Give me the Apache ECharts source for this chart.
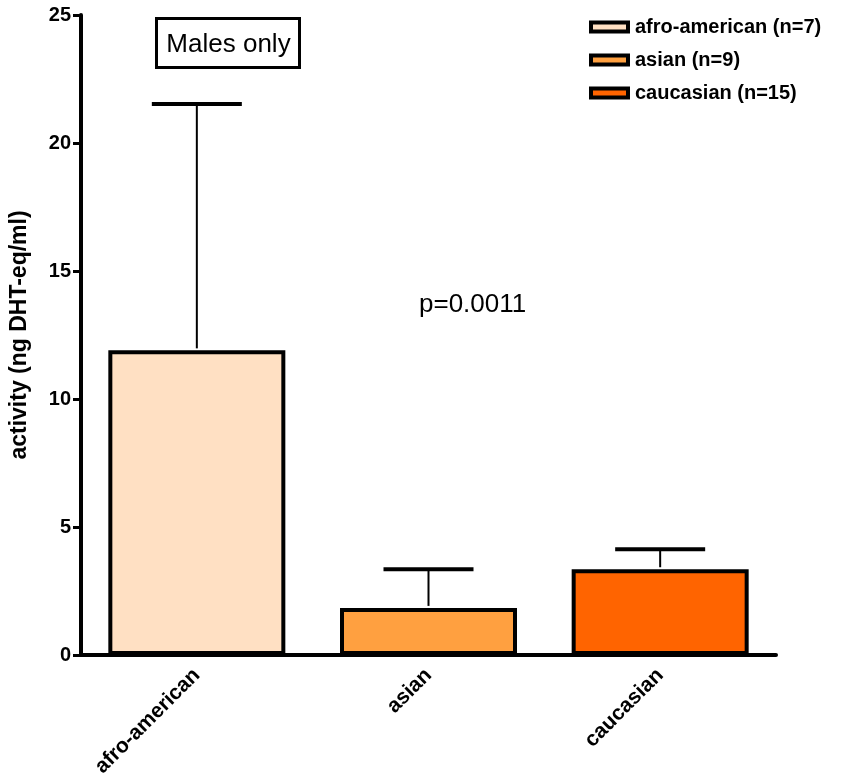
<!DOCTYPE html>
<html>
<head>
<meta charset="utf-8">
<script src="https://cdn.jsdelivr.net/npm/echarts@6/dist/echarts.min.js"></script>
<style>
  html, body { margin: 0; padding: 0; background: #fff; }
  #chart { width: 851px; height: 778px; }
</style>
</head>
<body>
<div id="chart"></div>
<script>
// Groups, means and upper error (mean + SEM) in ng DHT-eq/ml
const categories = ['afro-american', 'asian', 'caucasian'];
const legendNames = ['afro-american (n=7)', 'asian (n=9)', 'caucasian (n=15)'];
const means = [11.9, 1.84, 3.35];
const upperErrors = [21.52, 3.35, 4.13];
const yTicks = [0, 5, 10, 15, 20, 25];
const colors = ['#FFE0C3', '#FFA040', '#FF6400'];

const FONT = 'Arial, "Liberation Sans", sans-serif';

const chart = echarts.init(document.getElementById('chart'));

// One stacked series per group so each gets its own legend entry
const barSeries = categories.map((c, i) => ({
  name: legendNames[i],
  type: 'bar',
  stack: 'all',
  barWidth: 177,
  data: categories.map((_, j) => (j === i ? means[i] : '-')),
  itemStyle: { color: colors[i], borderColor: '#000', borderWidth: 4 },
  emphasis: { disabled: true },
  z: 2
}));

// Error bars: thin stem from bar top up to a thick cap
const errorSeries = {
  type: 'custom',
  name: 'error',
  data: categories.map((c, i) => [i, means[i], upperErrors[i]]),
  z: 3,
  renderItem: function (params, api) {
    const x = api.value(0);
    const base = api.coord([x, api.value(1)]);
    const top = api.coord([x, api.value(2)]);
    const half = 45;
    return {
      type: 'group',
      children: [
        { type: 'line', shape: { x1: base[0], y1: base[1] - 2, x2: top[0], y2: top[1] },
          style: { stroke: '#000', lineWidth: 2 } },
        { type: 'line', shape: { x1: top[0] - half, y1: top[1], x2: top[0] + half, y2: top[1] },
          style: { stroke: '#000', lineWidth: 4 } }
      ]
    };
  }
};

chart.setOption({
  animation: false,
  backgroundColor: '#fff',
  grid: { left: 81, right: 75, top: 15, bottom: 123, containLabel: false, outerBoundsMode: 'none' },
  legend: {
    data: legendNames,
    orient: 'vertical',
    left: 584,
    top: 12,
    itemWidth: 37,
    itemHeight: 9,
    itemGap: 13,
    icon: 'rect',
    selectedMode: false,
    itemStyle: { borderColor: '#000', borderWidth: 4 },
    textStyle: { fontFamily: FONT, fontSize: 20, fontWeight: 'bold', color: '#000', padding: [0, 0, 0, 2] }
  },
  xAxis: {
    type: 'category',
    data: categories,
    axisLine: { lineStyle: { color: '#000', width: 4 } },
    axisTick: { show: false },
    axisLabel: {
      rotate: 45,
      margin: 17,
      color: '#000',
      fontFamily: FONT,
      fontSize: 21,
      fontWeight: 'bold',
      interval: 0
    }
  },
  yAxis: {
    type: 'value',
    min: yTicks[0],
    max: yTicks[yTicks.length - 1],
    interval: 5,
    name: 'activity (ng DHT-eq/ml)',
    nameLocation: 'middle',
    nameGap: 50,
    nameTextStyle: { fontFamily: FONT, fontSize: 23, fontWeight: 'bold', color: '#000' },
    axisLine: { show: true, lineStyle: { color: '#000', width: 4 } },
    axisTick: { show: true, length: 8, lineStyle: { color: '#000', width: 3 } },
    splitLine: { show: false },
    axisLabel: {
      margin: 10,
      color: '#000',
      fontFamily: FONT,
      fontSize: 20,
      fontWeight: 'bold'
    }
  },
  graphic: [
    {
      type: 'group',
      left: 155,
      top: 17,
      children: [
        { type: 'rect', shape: { x: 0, y: 0, width: 143, height: 49 },
          style: { fill: '#fff', stroke: '#000', lineWidth: 3 } },
        { type: 'text', x: 72, y: 26,
          style: { text: 'Males only', fill: '#000', font: '26px ' + FONT, textAlign: 'center', textVerticalAlign: 'middle' } }
      ]
    },
    {
      type: 'text',
      left: 419,
      top: 292,
      style: { text: 'p=0.0011', fill: '#000', font: '26px ' + FONT }
    }
  ],
  series: barSeries.concat([errorSeries])
});
</script>
</body>
</html>
